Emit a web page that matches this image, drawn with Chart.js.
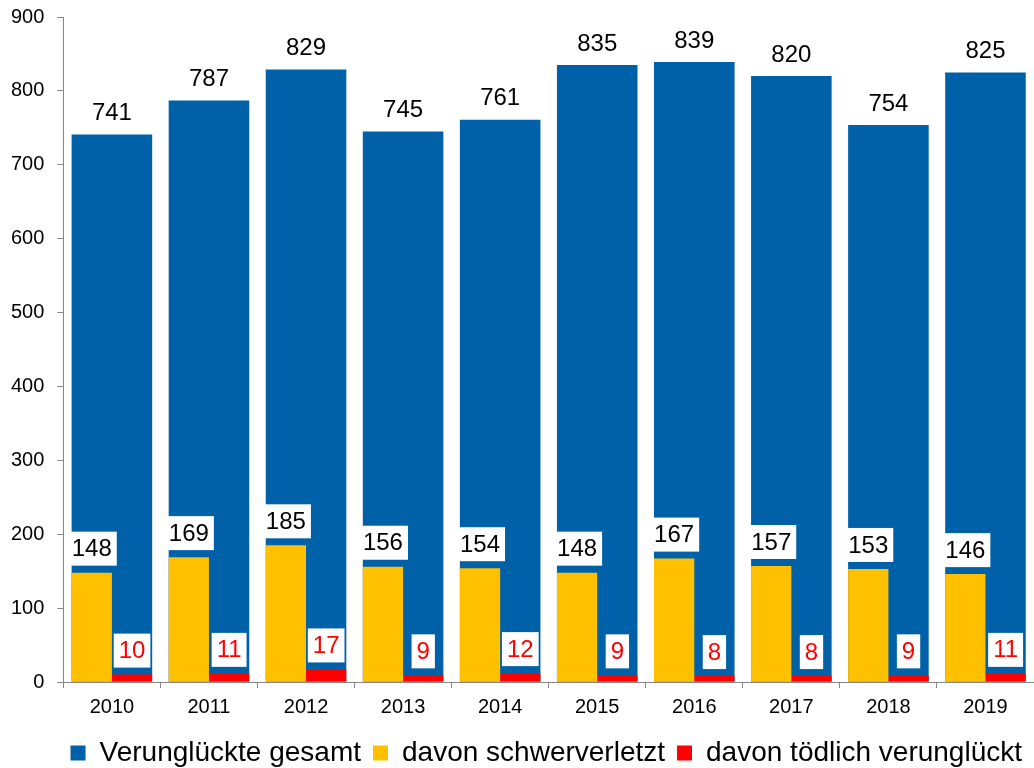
<!DOCTYPE html>
<html>
<head>
<meta charset="utf-8">
<script src="https://cdn.jsdelivr.net/npm/chart.js@4.4.1/dist/chart.umd.min.js"></script>
<style>
  html, body { margin: 0; padding: 0; background: #fff; }
  #wrap { width: 1034px; height: 768px; }
</style>
</head>
<body>
<div id="wrap"><canvas id="chart"></canvas></div>
<script>
var years = ['2010', '2011', '2012', '2013', '2014', '2015', '2016', '2017', '2018', '2019']
var gesamt = [741, 787, 829, 745, 761, 835, 839, 820, 754, 825]
var schwer = [148, 169, 185, 156, 154, 148, 167, 157, 153, 146]
var toedlich = [10, 11, 17, 9, 12, 9, 8, 8, 9, 11]

var FONT = '"Liberation Sans", Arial, sans-serif'
var AXIS = '#868686'

// value labels: text above each bar, white box behind the smaller series
var valueLabels = {
  id: 'valueLabels',
  afterDatasetsDraw: function(chart){
    var ctx = chart.ctx
    ctx.save()
    ctx.font = '24px ' + FONT
    ctx.textAlign = 'center'
    ctx.textBaseline = 'middle'
    chart.data.datasets.forEach(function(ds, i){
      var meta = chart.getDatasetMeta(i)
      meta.data.forEach(function(bar, j){
        var txt = String(ds.data[j])
        var w = ctx.measureText(txt).width + 10
        var h = 34
        var cy = bar.y - 7 - h / 2
        if (i > 0) {
          ctx.fillStyle = '#fff'
          ctx.fillRect(bar.x - w / 2, cy - h / 2, w, h)
        } else {
          cy = bar.y - 22
        }
        ctx.fillStyle = ds.labelColor
        ctx.fillText(txt, bar.x, cy + 1)
      })
    })
    ctx.restore()
  }
}

new Chart(document.getElementById('chart').getContext('2d'), {
  type: 'bar',
  data: {
    labels: years,
    datasets: [{
      label: 'Verunglückte gesamt',
      data: gesamt,
      backgroundColor: '#0060A8',
      labelColor: '#000',
      borderWidth: 0,
      grouped: false,
      barPercentage: 0.83,
      categoryPercentage: 1,
      order: 1
    }, {
      label: 'davon schwerverletzt',
      data: schwer,
      backgroundColor: '#FFC000',
      labelColor: '#000',
      borderWidth: 0,
      barPercentage: 1,
      categoryPercentage: 0.83,
      order: 0
    }, {
      label: 'davon tödlich verunglückt',
      data: toedlich,
      backgroundColor: '#FF0000',
      labelColor: '#FF0000',
      borderWidth: 0,
      barPercentage: 1,
      categoryPercentage: 0.83,
      order: 0
    }]
  },
  options: {
    responsive: true,
    maintainAspectRatio: false,
    animation: false,
    layout: { padding: { left: -2, top: 0, right: 0, bottom: -9 } },
    plugins: {
      tooltip: { enabled: false },
      legend: {
        position: 'bottom',
        align: 'end',
        labels: {
          font: { family: FONT, size: 28 },
          color: '#000',
          boxWidth: 15,
          boxHeight: 15,
          padding: 12,
          sort: function(a, b){ return a.datasetIndex - b.datasetIndex }
        }
      }
    },
    scales: {
      x: {
        grid: { display: true, drawOnChartArea: false, tickLength: 6, color: AXIS },
        border: { display: true, color: AXIS },
        ticks: { font: { family: FONT, size: 20 }, color: '#000', padding: 7.5 }
      },
      y: {
        min: 0,
        max: 900,
        grid: { display: true, drawOnChartArea: false, tickLength: 6, color: AXIS },
        border: { display: true, color: AXIS },
        ticks: { stepSize: 100, font: { family: FONT, size: 20 }, color: '#000', padding: 13 },
        // keep the axis close to the top edge
        afterFit: function(scale){ scale.paddingTop = 17 }
      }
    }
  },
  plugins: [valueLabels]
})
</script>
</body>
</html>
